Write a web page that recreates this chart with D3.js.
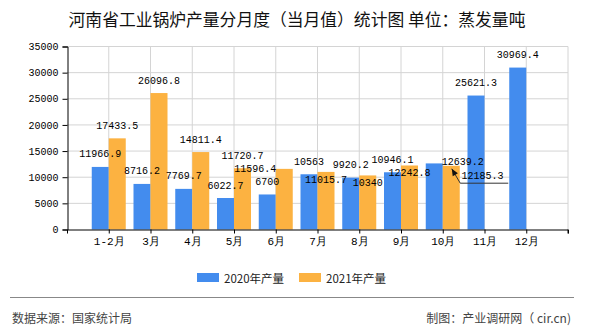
<!DOCTYPE html>
<html><head><meta charset="utf-8">
<script src="https://cdn.jsdelivr.net/npm/d3@7"></script>
<style>
html,body{margin:0;padding:0;background:#fff;}
svg{display:block;}
</style></head>
<body>
<svg id="c" width="590" height="330"></svg>
<script>
const categories = ["1-2月","3月","4月","5月","6月","7月","8月","9月","10月","11月","12月"];
const values2020 = [11966.9, 8716.2, 7769.7, 6022.7, 6700, 10563, 9920.2, 10946.1, 12639.2, 25621.3, 30969.4];
const values2021 = [17433.5, 26096.8, 14811.4, 11720.7, 11596.4, 11015.7, 10340, 12242.8, 12185.3, null, null];
const seriesNames = ["2020年产量","2021年产量"];
const yTicks = [0,5000,10000,15000,20000,25000,30000,35000];
const title = "河南省工业锅炉产量分月度（当月值）统计图 单位：蒸发量吨";
const source = "数据来源：国家统计局";
const credit = "制图：产业调研网（ cir.cn)";

// label nudges (layout only): [series][index] -> [dx, dy]
const nudge2020 = {8:[28.5, 11.4]};
const nudge2021 = {4:[-29, 12.6], 5:[0, 20.6], 6:[0, 19.7], 7:[0, 19.7], 8:[31.3, 22.4]};
const leaderIndex2021 = 8;

const colors = ["#438cee", "#fcb241"];
const svg = d3.select("#c");
const L = 67, R = 568, T = 46.5, B = 229.5;
const x = d3.scalePoint().domain(categories).range([L, R]).padding(1);
const y = d3.scaleLinear().domain([0, 35000]).range([B, T]);
const bw = 17;
const monoFont = "'Liberation Mono','DejaVu Sans Mono',monospace";
const cjkFont = "'Noto Sans CJK SC','Liberation Sans',sans-serif";

// title
svg.append("text").attr("x", 297).attr("y", 19).attr("text-anchor","middle")
  .attr("dominant-baseline","central").attr("font-family", cjkFont).attr("font-size", 16.8)
  .attr("fill","#111").text(title);

// grid horizontal
svg.append("g").selectAll("line").data(yTicks.filter(d=>d>0)).join("line")
  .attr("x1", L).attr("x2", R).attr("y1", d=>y(d)).attr("y2", d=>y(d))
  .attr("stroke","#d4d4d4").attr("stroke-width",1);
// grid vertical
svg.append("g").selectAll("line").data(categories).join("line")
  .attr("x1", d=>x(d)).attr("x2", d=>x(d)).attr("y1", T).attr("y2", B)
  .attr("stroke","#d4d4d4").attr("stroke-width",1);
svg.append("line").attr("x1",R).attr("x2",R).attr("y1",T).attr("y2",B).attr("stroke","#d4d4d4");

// bars
const g2020 = svg.append("g");
g2020.selectAll("rect").data(values2020.map((v,i)=>({v,c:categories[i]})).filter(d=>d.v!=null)).join("rect")
  .attr("x", d=>x(d.c)-bw).attr("width", bw).attr("y", d=>y(d.v)).attr("height", d=>B-y(d.v))
  .attr("fill", colors[0]);
const g2021 = svg.append("g");
g2021.selectAll("rect").data(values2021.map((v,i)=>({v,c:categories[i]})).filter(d=>d.v!=null)).join("rect")
  .attr("x", d=>x(d.c)).attr("width", bw).attr("y", d=>y(d.v)).attr("height", d=>B-y(d.v))
  .attr("fill", colors[1]);

// axes
const yAxis = d3.axisLeft(y).tickValues(yTicks).tickSize(5).tickPadding(4).tickFormat(d=>String(d));
const ya = svg.append("g").attr("transform",`translate(${L+0.5},0)`).call(yAxis);
ya.select(".domain").attr("stroke","#000");
ya.selectAll(".tick line").attr("stroke","#000");
ya.selectAll("text").attr("font-family", monoFont).attr("font-size", 10).attr("fill","#000");

const xAxis = d3.axisBottom(x).tickSize(4).tickPadding(4).tickSizeOuter(4);
const xa = svg.append("g").attr("transform",`translate(0,${B})`).call(xAxis);
xa.select(".domain").attr("stroke","#000");
xa.selectAll(".tick line").attr("stroke","#000");
xa.selectAll("text").attr("font-family", monoFont).attr("font-size", 11).attr("fill","#000");
xa.append("line").attr("x1",R).attr("x2",R).attr("y1",0).attr("y2",4).attr("stroke","#000");

// data labels
function fmt(v){ return String(v); }
function addLabels(vals, off, nudge){
  vals.forEach((v,i)=>{
    if(v==null) return;
    const cx = x(categories[i]) + off;
    const n = nudge[i] || [0,0];
    svg.append("text").attr("x", cx + n[0]).attr("y", y(v) - 12 + n[1])
      .attr("text-anchor","middle").attr("dominant-baseline","central")
      .attr("font-family", monoFont).attr("font-size", 10).attr("fill","#000").text(fmt(v));
  });
}
addLabels(values2020, -bw/2, nudge2020);
addLabels(values2021, bw/2, nudge2021);

// leader line for overlapping label
{
  const i = leaderIndex2021, v = values2021[i];
  const bx = x(categories[i]) + bw/2, by = y(v);
  const n = nudge2021[i];
  const ly = by - 12 + n[1] + 7;
  const tip = [bx + 0.5, by + 3];
  const elbow = [bx + 9, ly];
  const end = [bx + 57, ly];
  svg.append("polyline").attr("points", [tip, elbow, end].map(p=>p.join(",")).join(" "))
    .attr("fill","none").attr("stroke","#333").attr("stroke-width",1);
  const ang = Math.atan2(elbow[1]-tip[1], elbow[0]-tip[0]);
  const len = 7, w = 3;
  const p1 = [tip[0] + len*Math.cos(ang) - w*Math.sin(ang), tip[1] + len*Math.sin(ang) + w*Math.cos(ang)];
  const p2 = [tip[0] + len*Math.cos(ang) + w*Math.sin(ang), tip[1] + len*Math.sin(ang) - w*Math.cos(ang)];
  svg.append("polygon").attr("points", [tip,p1,p2].map(p=>p.join(",")).join(" ")).attr("fill","#111");
}

// legend
const lg = svg.append("g");
const legendX = [197, 299];
seriesNames.forEach((s,i)=>{
  lg.append("rect").attr("x", legendX[i]).attr("y", 273).attr("width", 22).attr("height", 9).attr("fill", colors[i]);
  lg.append("text").attr("x", legendX[i] + 27).attr("y", 278).attr("dominant-baseline","central")
    .attr("font-family", cjkFont).attr("font-size", 11.5).attr("fill","#222").text(s);
});

// separator and footer
svg.append("line").attr("x1",10).attr("x2",574).attr("y1",297.5).attr("y2",297.5).attr("stroke","#888").attr("stroke-width",1.2);
svg.append("text").attr("x",12).attr("y",317).attr("dominant-baseline","central")
  .attr("font-family", cjkFont).attr("font-size",12).attr("fill","#444").text(source);
svg.append("text").attr("x",571).attr("y",317).attr("text-anchor","end").attr("dominant-baseline","central")
  .attr("font-family", cjkFont).attr("font-size",12).attr("fill","#444").text(credit);
</script>
</body></html>
